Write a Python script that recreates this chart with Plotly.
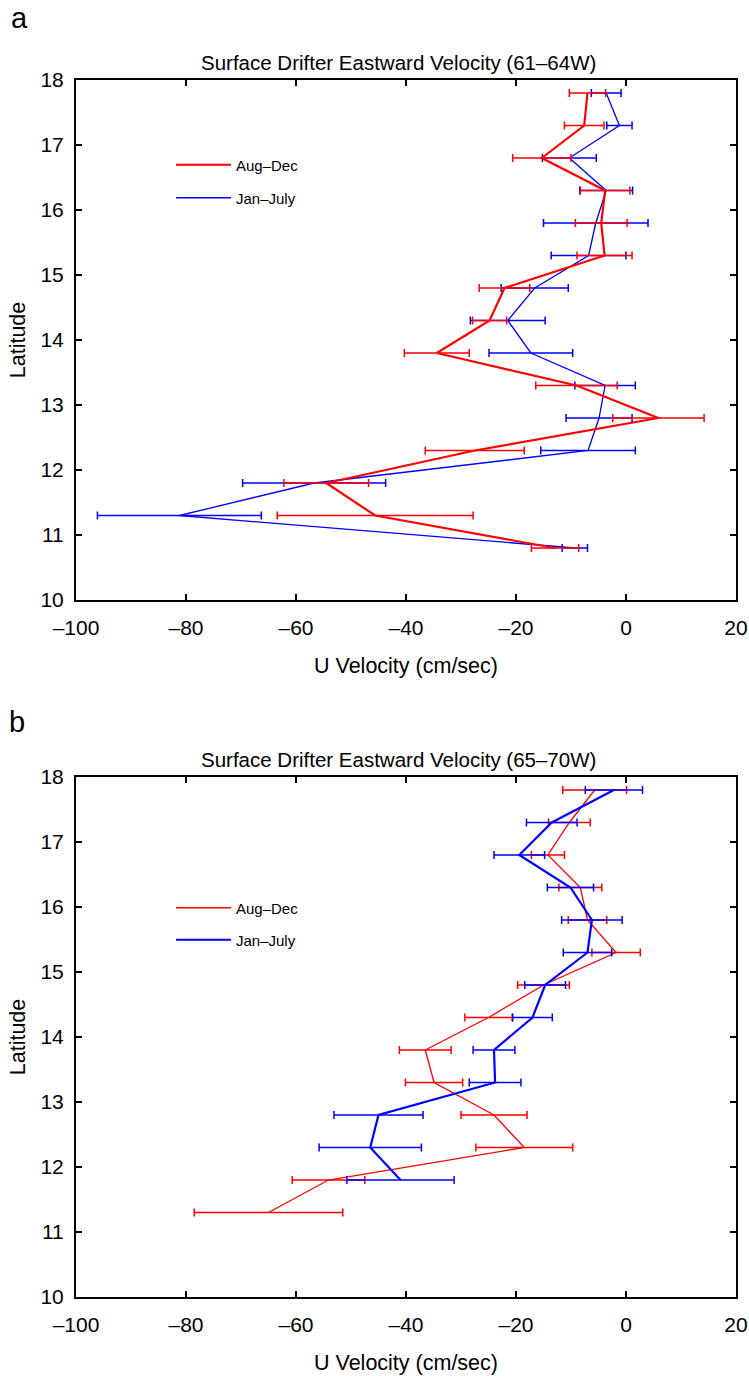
import plotly.graph_objects as go

# ---------------- data ----------------
# Panel a: 61-64W
lat_a = [17.8, 17.3, 16.8, 16.3, 15.8, 15.3, 14.8, 14.3, 13.8, 13.3, 12.8, 12.3, 11.8, 11.3, 10.8]
aug_dec_a = [-7.0, -7.6, -15.3, -3.8, -4.5, -3.9, -22.1, -24.8, -34.4, -9.0, 5.9, -27.5, -54.5, -45.6, -12.9]
aug_dec_a_err = [3.3, 3.6, 5.3, 4.5, 4.7, 5.0, 4.6, 3.1, 5.9, 7.4, 8.3, 9.0, 7.7, 17.8, 4.3]
jan_july_a = [-3.6, -1.2, -10.3, -3.6, -5.5, -6.8, -16.6, -21.5, -17.3, -3.8, -4.9, -6.9, -56.7, -81.2, -9.3]
jan_july_a_err = [2.7, 2.3, 4.9, 4.8, 9.5, 6.8, 6.1, 6.8, 7.6, 5.5, 6.0, 8.6, 13.0, 14.9, 2.3]

# Panel b: 65-70W
lat_b_red = [17.8, 17.3, 16.8, 16.3, 15.8, 15.3, 14.8, 14.3, 13.8, 13.3, 12.8, 12.3, 11.8, 11.3]
aug_dec_b = [-5.7, -10.3, -14.2, -8.3, -7.0, -1.8, -15.0, -25.0, -36.5, -34.9, -24.0, -18.5, -54.1, -65.0]
aug_dec_b_err = [5.8, 3.8, 3.0, 3.9, 3.5, 4.4, 4.7, 4.3, 4.7, 5.2, 6.0, 8.8, 6.6, 13.5]
lat_b_blue = [17.8, 17.3, 16.8, 16.3, 15.8, 15.3, 14.8, 14.3, 13.8, 13.3, 12.8, 12.3, 11.8]
jan_july_b = [-2.2, -13.5, -19.4, -10.1, -6.2, -7.0, -14.7, -17.0, -24.0, -23.8, -45.0, -46.5, -41.0]
jan_july_b_err = [5.2, 4.6, 4.6, 4.2, 5.5, 4.4, 3.7, 3.6, 3.8, 4.7, 8.1, 9.3, 9.75]

x_tickvals = [-100, -80, -60, -40, -20, 0, 20]
x_ticktext = ["\u2013100", "\u201380", "\u201360", "\u201340", "\u201320", "0", "20"]
y_tickvals = [10, 11, 12, 13, 14, 15, 16, 17, 18]

title_a = "Surface Drifter Eastward Velocity (61\u201364W)"
title_b = "Surface Drifter Eastward Velocity (65\u201370W)"
x_title = "U Velocity (cm/sec)"
y_title = "Latitude"
name_red = "Aug\u2013Dec"
name_blue = "Jan\u2013July"

RED = "rgb(255,0,0)"
BLUE = "rgb(0,0,255)"
FONT = "Liberation Sans, Arial, sans-serif"

W, H = 749, 1376
PLOT_LEFT, PLOT_RIGHT, PLOT_TOP, PLOT_BOTTOM = 76, 736, 80, 1297  # px
L = PLOT_LEFT
T = PLOT_TOP
R = W - PLOT_RIGHT
B = H - PLOT_BOTTOM
PW = PLOT_RIGHT - PLOT_LEFT
PH = PLOT_BOTTOM - PLOT_TOP


def py(ypx):
    return (PLOT_BOTTOM - ypx) / PH


def px(xpx):
    return (xpx - PLOT_LEFT) / PW


fig = go.Figure()

# Panel a (blue drawn first, red on top)
fig.add_trace(go.Scatter(
    x=jan_july_a, y=lat_a, mode="lines", name=name_blue,
    line=dict(color=BLUE, width=1.3),
    error_x=dict(type="data", array=jan_july_a_err, color=BLUE, thickness=1.5, width=4),
    xaxis="x", yaxis="y", legend="legend2"))
fig.add_trace(go.Scatter(
    x=aug_dec_a, y=lat_a, mode="lines", name=name_red,
    line=dict(color=RED, width=2.2),
    error_x=dict(type="data", array=aug_dec_a_err, color=RED, thickness=1.5, width=4),
    xaxis="x", yaxis="y", legend="legend"))

# Panel b (red drawn first, blue on top)
fig.add_trace(go.Scatter(
    x=aug_dec_b, y=lat_b_red, mode="lines", name=name_red,
    line=dict(color=RED, width=1.3),
    error_x=dict(type="data", array=aug_dec_b_err, color=RED, thickness=1.5, width=4),
    xaxis="x2", yaxis="y2", legend="legend3"))
fig.add_trace(go.Scatter(
    x=jan_july_b, y=lat_b_blue, mode="lines", name=name_blue,
    line=dict(color=BLUE, width=2.2),
    error_x=dict(type="data", array=jan_july_b_err, color=BLUE, thickness=1.5, width=4),
    xaxis="x2", yaxis="y2", legend="legend4"))

axis_common = dict(
    showline=True, linecolor="black", linewidth=2, mirror="allticks",
    ticks="inside", ticklen=6, tickwidth=1.5, tickcolor="black",
    showgrid=False, zeroline=False, automargin=False,
    tickfont=dict(family=FONT, size=21, color="black"),
)

xa = dict(axis_common, range=[-100, 20], tickmode="array", tickvals=x_tickvals,
          ticktext=x_ticktext, ticklabelstandoff=8,
          title=dict(text=x_title, font=dict(family=FONT, size=21.5, color="black"), standoff=20))
ya = dict(axis_common, range=[10, 18], tickmode="array", tickvals=y_tickvals,
          ticklabelstandoff=6,
          title=dict(text=y_title, font=dict(family=FONT, size=21.5, color="black"), standoff=9))

dom_a = [py(600), 1.0]
dom_b = [0.0, py(777)]

fig.update_layout(
    width=W, height=H,
    margin=dict(l=L, r=R, t=T, b=B, autoexpand=False),
    paper_bgcolor="white", plot_bgcolor="white",
    font=dict(family=FONT, color="black"),
    xaxis=dict(xa, anchor="y"),
    yaxis=dict(ya, domain=dom_a, anchor="x"),
    xaxis2=dict(xa, anchor="y2"),
    yaxis2=dict(ya, domain=dom_b, anchor="x2"),
    showlegend=True,
    hovermode=False,
)

leg_common = dict(bgcolor="rgba(0,0,0,0)", borderwidth=0, itemwidth=55,
                  font=dict(family=FONT, size=15, color="black"),
                  xanchor="left", yanchor="middle", xref="paper", yref="paper",
                  itemclick=False, itemdoubleclick=False)
leg_x = px(171)
fig.update_layout(
    legend=dict(leg_common, x=leg_x, y=py(165)),
    legend2=dict(leg_common, x=leg_x, y=py(198)),
    legend3=dict(leg_common, x=leg_x, y=py(908)),
    legend4=dict(leg_common, x=leg_x, y=py(940)),
)

# Titles and panel labels
fig.add_annotation(text=title_a, x=px(398), xref="paper", y=py(62), yref="paper",
                   showarrow=False, font=dict(family=FONT, size=20.5, color="black"),
                   xanchor="center", yanchor="middle")
fig.add_annotation(text=title_b, x=px(398), xref="paper", y=py(759), yref="paper",
                   showarrow=False, font=dict(family=FONT, size=20.5, color="black"),
                   xanchor="center", yanchor="middle")
fig.add_annotation(text="a", x=px(19), xref="paper", y=py(18), yref="paper",
                   showarrow=False, font=dict(family=FONT, size=29, color="black"),
                   xanchor="center", yanchor="middle")
fig.add_annotation(text="b", x=px(17), xref="paper", y=py(722), yref="paper",
                   showarrow=False, font=dict(family=FONT, size=29, color="black"),
                   xanchor="center", yanchor="middle")

# Remove the browser's default 8px body margin so the figure fills the window exactly.
fig.write_html(
    "out.html",
    config={"displayModeBar": False},
    post_script="document.body.style.margin='0px';document.body.style.overflow='hidden';",
)
